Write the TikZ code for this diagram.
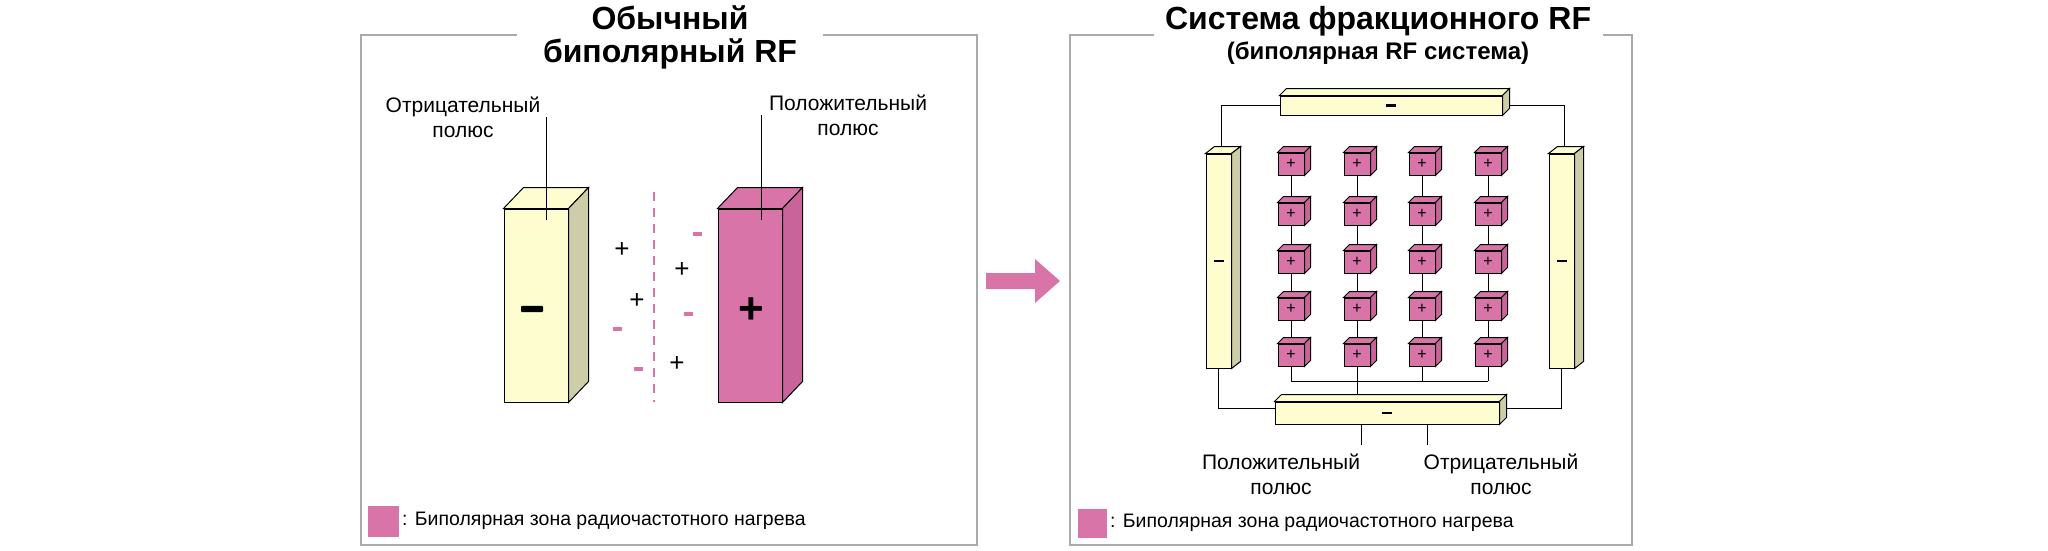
\documentclass[tikz,border=0pt]{standalone}
\usepackage{fontspec}
\setmainfont{Liberation Sans}
\usetikzlibrary{calc}
\definecolor{pinkc}{HTML}{D874A8}
\definecolor{pinkd}{HTML}{C8649A}
\definecolor{yelc}{HTML}{FDFDD0}
\definecolor{yeld}{HTML}{CDCDA8}
\definecolor{framec}{HTML}{AAAAAA}
\tikzset{
    face/.style={draw, line width=1pt, inner sep=0pt, rectangle},
    lab/.style={align=center, font=\fontsize{21}{25}\selectfont},
    ttl/.style={align=center, font=\bfseries\fontsize{32}{33}\selectfont},
    legend/.style={anchor=west, font=\fontsize{19.5}{20}\selectfont},
    wire/.style={line width=1pt},
    bar/.style={fill=black, inner sep=0pt, minimum width=#1, minimum height=0.28*#1}
}
% top and side of a block, drawn from the anchors of its front face
\newcommand{\depth}[5]{
    \draw[line width=1pt, fill=#4] (#1.north west) -- ++(#2,-#3) -- ($(#1.north east)+(#2,-#3)$) -- (#1.north east) -- cycle;
    \draw[line width=1pt, fill=#5] (#1.north east) -- ++(#2,-#3) -- ($(#1.south east)+(#2,-#3)$) -- (#1.south east) -- cycle;
}
\begin{document}
\begin{tikzpicture}[x=1pt, y=-1pt]
    \useasboundingbox (0,0) rectangle (2048,550);

    % frames
    \draw[framec, line width=1.2pt] (517,35) -| (361,545) -| (977,35) -- (823,35);
    \draw[framec, line width=1.2pt] (1154,35) -| (1070,545) -| (1632,35) -- (1603,35);

    \node[ttl] (title1) at (670,37) {Обычный\\биполярный RF};
    \node[ttl] (title2) at (1378,21) {Система фракционного RF};
    \node[font=\bfseries\fontsize{24}{26}\selectfont] (subtitle2) at (1378,53) {(биполярная RF система)};

    % conventional bipolar
    \node[face, fill=yelc, minimum width=64pt, minimum height=193pt] (negbox) at (536,305.5) {};
    \depth{negbox}{20}{21}{yelc}{yeld}
    \node[face, fill=pinkc, minimum width=64pt, minimum height=193pt] (posbox) at (750,305.5) {};
    \depth{posbox}{20}{21}{pinkc}{pinkd}
    \node[bar=22pt, rounded corners=1pt] (negsign) at (532,309) {};
    \node[font=\bfseries\fontsize{44}{44}\selectfont] (possign) at (751,311) {+};

    \node[lab] (neglab) at (463,117) {Отрицательный\\полюс};
    \node[lab] (poslab) at (848,115) {Положительный\\полюс};
    \coordinate (negtop) at (546,117);
    \coordinate (postop) at (761,115);
    \draw[wire] (negtop) -- ($(negtop |- negbox.north)+(0,11)$);
    \draw[wire] (postop) -- ($(postop |- posbox.north)+(0,11)$);

    \coordinate (dashtop) at (654,192);
    \coordinate (dashbot) at (654,402);
    \draw[pinkc, line width=1.2pt, dash pattern=on 9pt off 7pt] (dashtop) -- (dashbot);

    \foreach \px/\py [count=\k] in {622/250, 682/270, 637/301, 677/364}
        \node[font=\fontsize{26}{26}\selectfont] (plus\k) at (\px,\py) {+};
    \foreach \mx/\my [count=\k] in {697/234, 688/314, 617/329, 638/369}
        \node[fill=pinkc, inner sep=0pt, minimum width=9pt, minimum height=3.5pt] (minus\k) at (\mx,\my) {};

    \node[fill=pinkc, minimum size=31pt, inner sep=0pt] (key1) at (383,521) {};
    \node[legend] (keytxt1) at (key1.east) {: Биполярная зона радиочастотного нагрева};

    % arrow
    \fill[pinkc] (986,273) -- (1035,273) -- (1035,259) -- (1060,281) -- (1035,303) -- (1035,289) -- (986,289) -- cycle;

    % fractional system
    \coordinate (bus) at (0,381);
    \foreach \i/\x in {1/1291, 2/1357, 3/1422, 4/1488}
        \foreach \j/\y in {1/164, 2/214, 3/262, 4/309, 5/355}
            \coordinate (p\i\j) at (\x,\y);
    \foreach \i in {1,...,4}
        \draw[wire] (p\i1) -- (p\i5) -- (p\i5 |- bus);
    \draw[wire] (p15 |- bus) -- (p45 |- bus);
    \draw[wire] (p25 |- bus) -- (p25 |- 0,400);

    \node[face, fill=yelc, minimum width=222pt, minimum height=19pt] (tbar) at (1391,105.5) {};
    \node[face, fill=yelc, minimum width=25pt, minimum height=214pt] (lbar) at (1218.5,261) {};
    \node[face, fill=yelc, minimum width=25pt, minimum height=214pt] (rbar) at (1561.5,261) {};
    \node[face, fill=yelc, minimum width=224pt, minimum height=22pt] (bbar) at (1387,413) {};
    \draw[wire] (tbar.west) -| ($(lbar.north)+(3,-7)$);
    \draw[wire] (tbar.east) -| ($(rbar.north)+(3,-7)$);
    \draw[wire] (lbar.south) |- ($(bbar.west)+(0,-5)$);
    \draw[wire] (rbar.south) |- ($(bbar.east)+(0,-5)$);
    \depth{tbar}{7}{7}{yelc}{yeld}
    \depth{lbar}{9}{7}{yelc}{yeld}
    \depth{rbar}{9}{7}{yelc}{yeld}
    \depth{bbar}{7}{7}{yelc}{yeld}
    \foreach \b in {tbar, lbar, rbar, bbar}
        \node[bar=10pt] at (\b) {};

    \foreach \i in {1,...,4}
        \foreach \j in {1,...,5} {
            \node[face, fill=pinkc, minimum width=26pt, minimum height=22pt, font=\fontsize{16}{16}\selectfont] (c\i\j) at (p\i\j) {+};
            \depth{c\i\j}{6}{6}{pinkc}{pinkd}
        }

    \coordinate (posleg) at (1361,445);
    \coordinate (negleg) at (1427,445);
    \draw[wire] (posleg) -- (posleg |- bbar.south);
    \draw[wire] (negleg) -- (negleg |- bbar.south);
    \node[lab] (poslab2) at (1281,474) {Положительный\\полюс};
    \node[lab] (neglab2) at (1501,474) {Отрицательный\\полюс};

    \node[fill=pinkc, minimum size=29pt, inner sep=0pt] (key2) at (1092,523) {};
    \node[legend] (keytxt2) at (key2.east) {: Биполярная зона радиочастотного нагрева};
\end{tikzpicture}
\end{document}
